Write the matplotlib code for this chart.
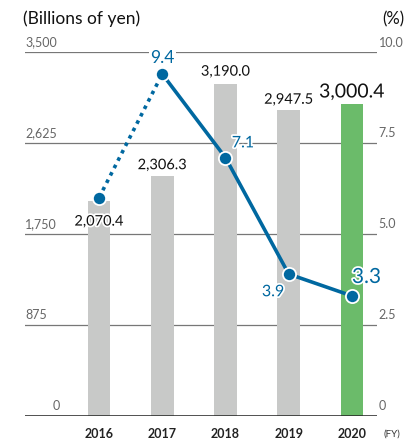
import matplotlib
matplotlib.use('Agg')
import matplotlib.pyplot as plt
import matplotlib.patheffects as pe
import numpy as np

plt.rcParams['font.family'] = ['Lato', 'DejaVu Sans']

years = ['2016', '2017', '2018', '2019', '2020']
sales = [2070.4, 2306.3, 3190.0, 2947.5, 3000.4]
sales_labels = ['2,070.4', '2,306.3', '3,190.0', '2,947.5', '3,000.4']
ratio = [6.0, 9.4, 7.1, 3.9, 3.3]
ratio_labels = ['', '9.4', '7.1', '3.9', '3.3']
left_ticks = [0, 875, 1750, 2625, 3500]
left_tick_labels = ['0', '875', '1,750', '2,625', '3,500']
right_ticks = [0, 2.5, 5.0, 7.5, 10.0]
right_tick_labels = ['0', '2.5', '5.0', '7.5', '10.0']

grey = '#C8C9C8'
green = '#6BBB6A'
blue = '#0068A0'
halo = [pe.withStroke(linewidth=2.5, foreground='white')]

fig = plt.figure(figsize=(4.04, 4.42), dpi=100)
ax = fig.add_axes([0.062, 0.059, 0.871, 0.823])
x = np.arange(len(years))

ax.set_xlim(-1.17, 4.395)
ax.set_ylim(0, 3500)
for t in left_ticks[1:]:
    ax.axhline(t, color='#777777', lw=0.9, zorder=0)
ax.axhline(0, color='#222222', lw=1.1, zorder=3)

colors = [grey] * 4 + [green]
ax.bar(x, sales, width=0.36, color=colors, zorder=1)

for s in ax.spines.values():
    s.set_visible(False)
ax.set_xticks([])
ax.set_yticks([])

# left tick labels (above the gridline)
for t, lab in zip(left_ticks, left_tick_labels):
    ha = 'left' if t else 'right'
    ax.text(-1.17 if t else -0.62, t + 40, lab, ha=ha, va='bottom', fontsize=9,
            color='#666666')

# year labels
for i, y in enumerate(years):
    ax.text(i, -170, y, ha='center', va='center', fontsize=9, fontweight='bold',
            color='#222222')
ax.text(4.5, -170, '(FY)', ha='left', va='center', fontsize=7, color='#333333',
        clip_on=False)

# bar value labels
label_pos = [1870, 2345, 3245, 2975, 3035]
for i, (v, lab) in enumerate(zip(label_pos, sales_labels)):
    fs = 14 if i == 4 else 10.5
    ax.text(i, v, lab, ha='center', va='bottom' if i else 'center', fontsize=fs,
            color='#111111', path_effects=halo, zorder=5)

# percent axis
ax2 = ax.twinx()
ax2.set_ylim(0, 10)
ax2.set_xlim(-1.17, 4.395)
for s in ax2.spines.values():
    s.set_visible(False)
ax2.set_yticks([])
for t, lab in zip(right_ticks, right_tick_labels):
    ax2.text(4.42, t + 0.1, lab, ha='left', va='bottom', fontsize=9,
             color='#666666', clip_on=False)

ax2.plot(x[:2], ratio[:2], color=blue, lw=2.6, ls=(0, (1, 1.3)), zorder=4)
ax2.plot(x[1:], ratio[1:], color=blue, lw=2.6, zorder=4)
ax2.plot(x, ratio, 'o', ms=9.5, color=blue, mec='white', mew=1.3, zorder=6)

ax2.text(1, 9.62, ratio_labels[1], ha='center', va='bottom', fontsize=12.5,
         color=blue, zorder=7,
         bbox=dict(facecolor='white', edgecolor='none', pad=1.0))
ax2.text(2.1, 7.3, ratio_labels[2], ha='left', va='bottom', fontsize=11.5,
         color=blue, path_effects=halo, zorder=7)
ax2.text(2.93, 3.4, ratio_labels[3], ha='right', va='center', fontsize=11.5,
         color=blue, path_effects=halo, zorder=7)
ax2.text(4.0, 3.82, ratio_labels[4], ha='left', va='center', fontsize=15,
         color=blue, path_effects=halo, zorder=7)

fig.text(0.057, 0.957, '(Billions of yen)', ha='left', va='center', fontsize=12.5,
         color='#111111')
fig.text(0.945, 0.957, '(%)', ha='left', va='center', fontsize=12,
         color='#111111')

fig.savefig('out.png', dpi=100)
